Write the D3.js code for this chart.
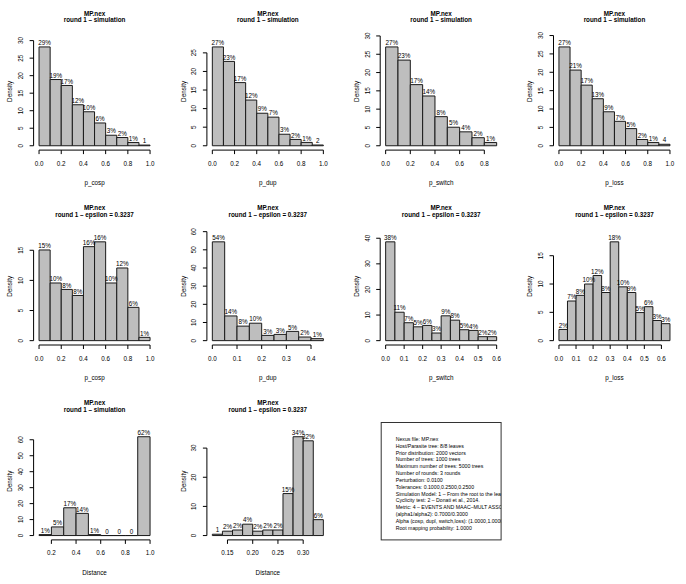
<!DOCTYPE html>
<html><head><meta charset="utf-8">
<script src="https://cdn.jsdelivr.net/npm/d3@7"></script>
<style>body{margin:0;background:#fff}svg{display:block}</style>
</head><body>
<svg id="c" width="686" height="584"></svg>
<script>
// ---------- data ----------
const fileTitle = "MP.nex";
const simSubtitle = "round 1 – simulation";
const epsSubtitle = "round 1 – epsilon = 0.3237";

const cospSimBreaks = [0,0.1,0.2,0.3,0.4,0.5,0.6,0.7,0.8,0.9,1.0];
const cospSimValues = [28.2,18.9,17.2,11.7,9.7,6.5,3.0,2.35,0.94,0.19];
const cospSimLabels = ["29%","19%","17%","12%","10%","6%","3%","2%","1%","1"];

const dupSimBreaks = [0,0.1,0.2,0.3,0.4,0.5,0.6,0.7,0.8,0.9,1.0];
const dupSimValues = [26.6,22.7,17.0,12.3,8.75,7.7,3.1,1.7,0.9,0.2];
const dupSimLabels = ["27%","23%","17%","12%","9%","7%","3%","2%","1%","2"];

const switchSimBreaks = [0,0.1,0.2,0.3,0.4,0.5,0.6,0.7,0.8,0.9];
const switchSimValues = [27.0,23.4,16.7,13.6,7.95,5.06,3.8,2.2,0.9];
const switchSimLabels = ["27%","23%","17%","14%","8%","5%","4%","2%","1%"];

const lossSimBreaks = [0,0.1,0.2,0.3,0.4,0.5,0.6,0.7,0.8,0.9,1.0];
const lossSimValues = [26.9,20.6,16.5,12.8,9.25,6.65,4.67,1.7,0.9,0.4];
const lossSimLabels = ["27%","21%","17%","13%","9%","7%","5%","2%","1%","4"];

const cospEpsBreaks = [0,0.1,0.2,0.3,0.4,0.5,0.6,0.7,0.8,0.9,1.0];
const cospEpsValues = [15.05,9.57,8.5,7.5,15.6,16.4,9.57,12.06,5.53,0.55];
const cospEpsLabels = ["15%","10%","8%","8%","16%","16%","10%","12%","6%","1%"];

const dupEpsBreaks = [0,0.05,0.1,0.15,0.2,0.25,0.3,0.35,0.4,0.45];
const dupEpsValues = [54.4,13.6,8.0,9.6,2.9,3.45,5.1,2.0,1.1];
const dupEpsLabels = ["54%","14%","8%","10%","3%","3%","5%","2%","1%"];

const switchEpsBreaks = [0,0.05,0.1,0.15,0.2,0.25,0.3,0.35,0.4,0.45,0.5,0.55,0.6];
const switchEpsValues = [38.6,11.1,7.0,5.4,5.95,2.98,9.7,8.0,4.27,4.0,1.55,1.55];
const switchEpsLabels = ["38%","11%","7%","5%","6%","3%","9%","8%","5%","4%","2%","2%"];

const lossEpsBreaks = [0,0.05,0.1,0.15,0.2,0.25,0.3,0.35,0.4,0.45,0.5,0.55,0.6,0.65];
const lossEpsValues = [1.98,7.0,8.0,10.0,11.5,8.5,17.45,9.5,8.5,4.96,6.0,3.56,3.0];
const lossEpsLabels = ["2%","7%","8%","10%","12%","8%","18%","10%","9%","5%","6%","3%","3%"];

const distSimBreaks = [0.1,0.2,0.3,0.4,0.5,0.6,0.7,0.8,0.9,1.0];
const distSimValues = [0.6,5.4,17.4,13.9,0.6,0,0,0,61.9];
const distSimLabels = ["1%","5%","17%","14%","1%","0","0","0","62%"];

const distEpsBreaks = [0.12,0.14,0.16,0.18,0.20,0.22,0.24,0.26,0.28,0.30,0.32,0.34];
const distEpsValues = [0.45,1.5,1.9,3.9,1.5,1.9,1.9,14.4,33.9,32.5,5.45];
const distEpsLabels = ["1","2%","2%","4%","2%","2%","2%","15%","34%","32%","6%"];

const xTicksUnit = [0,0.2,0.4,0.6,0.8,1.0];
const xTicksSwitchSim = [0,0.2,0.4,0.6,0.8];
const xTicksDupEps = [0,0.1,0.2,0.3,0.4];
const xTicksSixTenths = [0,0.1,0.2,0.3,0.4,0.5,0.6];
const xTicksDistSim = [0.2,0.4,0.6,0.8,1.0];
const xTicksDistEps = [0.15,0.20,0.25,0.30];

const yTicks30 = [0,5,10,15,20,25,30];
const yTicks25 = [0,5,10,15,20,25];
const yTicks15 = [0,5,10,15];
const yTicks60 = [0,10,20,30,40,50,60];
const yTicks40 = [0,10,20,30,40];
const yTicks30b = [0,10,20,30];

const infoLines = [
  "Nexus file: MP.nex",
  "Host/Parasite tree: 8/8 leaves",
  "Prior distribution: 2000 vectors",
  "Number of trees: 1000 trees",
  "Maximum number of trees: 5000 trees",
  "Number of rounds: 3 rounds",
  "Perturbation: 0.0100",
  "Tolerances: 0.1000,0.2500,0.2500",
  "Simulation Model: 1 – From the root to the leaves",
  "Cyclicity test: 2 – Donati et al., 2014.",
  "Metric: 4 – EVENTS AND MAAC–MULT ASSOCIATION",
  "(alpha1/alpha2): 0.7000/0.3000",
  "Alpha (cosp, dupl, switch,loss): (1.0000,1.0000,1.0000,1.0000)",
  "Root mapping probability: 1.0000"
];

const panels = [
  {sub: simSubtitle, xlab: "p_cosp",   b: cospSimBreaks,   v: cospSimValues,   l: cospSimLabels,   xt: xTicksUnit,      yt: yTicks30,  fmt: ".1f"},
  {sub: simSubtitle, xlab: "p_dup",    b: dupSimBreaks,    v: dupSimValues,    l: dupSimLabels,    xt: xTicksUnit,      yt: yTicks25,  fmt: ".1f"},
  {sub: simSubtitle, xlab: "p_switch", b: switchSimBreaks, v: switchSimValues, l: switchSimLabels, xt: xTicksSwitchSim, yt: yTicks30,  fmt: ".1f"},
  {sub: simSubtitle, xlab: "p_loss",   b: lossSimBreaks,   v: lossSimValues,   l: lossSimLabels,   xt: xTicksUnit,      yt: yTicks30,  fmt: ".1f"},
  {sub: epsSubtitle, xlab: "p_cosp",   b: cospEpsBreaks,   v: cospEpsValues,   l: cospEpsLabels,   xt: xTicksUnit,      yt: yTicks15,  fmt: ".1f"},
  {sub: epsSubtitle, xlab: "p_dup",    b: dupEpsBreaks,    v: dupEpsValues,    l: dupEpsLabels,    xt: xTicksDupEps,    yt: yTicks60,  fmt: ".1f"},
  {sub: epsSubtitle, xlab: "p_switch", b: switchEpsBreaks, v: switchEpsValues, l: switchEpsLabels, xt: xTicksSixTenths, yt: yTicks40,  fmt: ".1f"},
  {sub: epsSubtitle, xlab: "p_loss",   b: lossEpsBreaks,   v: lossEpsValues,   l: lossEpsLabels,   xt: xTicksSixTenths, yt: yTicks15,  fmt: ".1f"},
  {sub: simSubtitle, xlab: "Distance", b: distSimBreaks,   v: distSimValues,   l: distSimLabels,   xt: xTicksDistSim,   yt: yTicks60,  fmt: ".1f"},
  {sub: epsSubtitle, xlab: "Distance", b: distEpsBreaks,   v: distEpsValues,   l: distEpsLabels,   xt: xTicksDistEps,   yt: yTicks30b, fmt: ".2f"}
];

// ---------- layout ----------
const FONT = "'Liberation Sans', Arial, Helvetica, sans-serif";
const colStep = 173.3, rowStep = 194.9;
const plotLeft0 = 34.6, plotTop0 = 32.7, plotW = 119.9, plotH = 117.4;
const fs = 6.3;

const svg = d3.select("#c");
svg.append("rect").attr("width", 686).attr("height", 584).attr("fill", "#fff");

function region(i) {
  const col = i % 4, row = Math.floor(i / 4);
  const L = plotLeft0 + col * colStep, T = plotTop0 + row * rowStep;
  return {L, T, R: L + plotW, B: T + plotH};
}

panels.forEach((p, i) => {
  const {L, T, R, B} = region(i);
  const g = svg.append("g").attr("font-family", FONT).attr("fill", "#000");
  const b0 = p.b[0], bN = p.b[p.b.length - 1], span = bN - b0;
  const x = d3.scaleLinear().domain([b0 - 0.04 * span, bN + 0.04 * span]).range([L, R]);
  const yTop = 1.1 * d3.max(p.v);
  const y = d3.scaleLinear().domain([-0.04 * yTop, 1.04 * yTop]).range([B, T]);

  // bars
  p.v.forEach((v, k) => {
    const x0 = x(p.b[k]), x1 = x(p.b[k + 1]), y0 = y(0), y1 = y(v);
    g.append("path")
      .attr("d", `M${x0},${y0}H${x1}V${y1}H${x0}Z`)
      .attr("fill", "#bebebe").attr("stroke", "#1a1a1a").attr("stroke-width", 1);
  });
  // labels above bars
  p.v.forEach((v, k) => {
    g.append("text")
      .attr("x", x((p.b[k] + p.b[k + 1]) / 2)).attr("y", y(v) - 1.8)
      .attr("text-anchor", "middle").attr("font-size", fs).text(p.l[k]);
  });

  // x axis
  const xt = p.xt;
  g.append("line").attr("x1", x(xt[0])).attr("x2", x(xt[xt.length - 1]))
    .attr("y1", B).attr("y2", B).attr("stroke", "#000").attr("stroke-width", 1);
  const xf = d3.format(p.fmt);
  xt.forEach(t => {
    g.append("line").attr("x1", x(t)).attr("x2", x(t)).attr("y1", B).attr("y2", B + 4)
      .attr("stroke", "#000").attr("stroke-width", 1);
    g.append("text").attr("x", x(t)).attr("y", B + 15.5).attr("text-anchor", "middle")
      .attr("font-size", fs).text(xf(t));
  });
  g.append("text").attr("x", (L + R) / 2).attr("y", B + 35).attr("text-anchor", "middle")
    .attr("font-size", fs).text(p.xlab);

  // y axis
  const yt = p.yt;
  const ax = L - 1;
  g.append("line").attr("x1", ax).attr("x2", ax)
    .attr("y1", y(yt[0])).attr("y2", y(yt[yt.length - 1])).attr("stroke", "#000").attr("stroke-width", 1);
  yt.forEach(t => {
    g.append("line").attr("x1", ax - 4).attr("x2", ax).attr("y1", y(t)).attr("y2", y(t))
      .attr("stroke", "#000").attr("stroke-width", 1);
    g.append("text").attr("transform", `translate(${L - 11.5},${y(t)}) rotate(-90)`)
      .attr("text-anchor", "middle").attr("font-size", fs).text(t);
  });
  g.append("text").attr("transform", `translate(${L - 22.3},${(T + B) / 2}) rotate(-90)`)
    .attr("text-anchor", "middle").attr("font-size", fs).text("Density");

  // titles
  g.append("text").attr("x", (L + R) / 2).attr("y", T - 17.2).attr("text-anchor", "middle")
    .attr("font-size", fs).attr("font-weight", "bold").text(fileTitle);
  g.append("text").attr("x", (L + R) / 2).attr("y", T - 10.4).attr("text-anchor", "middle")
    .attr("font-size", fs).attr("font-weight", "bold").text(p.sub);
});

// info box
{
  const {L, T, R, B} = region(10);
  const defs = svg.append("defs");
  defs.append("clipPath").attr("id", "boxclip").append("rect")
    .attr("x", L).attr("y", T).attr("width", R - L).attr("height", B - T);
  svg.append("rect").attr("x", L).attr("y", T).attr("width", R - L).attr("height", B - T)
    .attr("fill", "none").attr("stroke", "#333").attr("stroke-width", 1);
  const tg = svg.append("g").attr("clip-path", "url(#boxclip)").attr("font-family", FONT);
  infoLines.forEach((s, k) => {
    tg.append("text").attr("x", L + 14.5).attr("y", T + 18.3 + k * 6.85)
      .attr("font-size", 5.2).attr("fill", "#000").text(s);
  });
}
</script>
</body></html>
